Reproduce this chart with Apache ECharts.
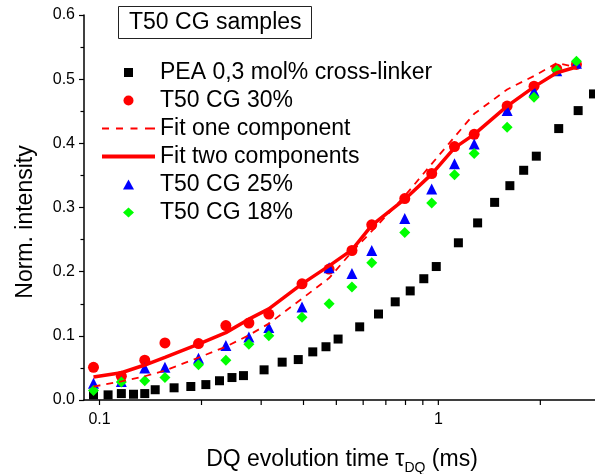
<!DOCTYPE html>
<html>
<head>
<meta charset="utf-8">
<script src="https://cdn.jsdelivr.net/npm/echarts@6/dist/echarts.min.js"></script>
<style>
html,body{margin:0;padding:0;background:#fff;}
#chart{width:595px;height:474px;}
</style>
</head>
<body>
<div id="chart"></div>
<script>
// ---- data ----
const timesPEA = [0.096,0.106,0.116,0.126,0.136,0.146,0.166,0.186,0.206,0.226,0.246,0.266,0.306,0.346,0.386,0.426,0.466,0.506,0.586,0.666,0.746,0.826,0.906,0.986,1.146,1.306,1.466,1.626,1.786,1.946,2.266,2.586,2.87];
const pea = [0.008,0.008,0.010,0.009,0.010,0.016,0.019,0.021,0.024,0.030,0.035,0.038,0.047,0.059,0.063,0.075,0.083,0.095,0.114,0.134,0.153,0.170,0.189,0.208,0.245,0.276,0.308,0.334,0.358,0.380,0.423,0.451,0.477];
const timesCG = [0.096,0.116,0.136,0.156,0.196,0.236,0.276,0.316,0.396,0.476,0.556,0.636,0.796,0.956,1.116,1.276,1.596,1.916,2.236,2.556];
const cg30 = [0.051,0.037,0.062,0.089,0.088,0.116,0.120,0.134,0.181,0.204,0.233,0.273,0.314,0.353,0.395,0.414,0.458,0.489,0.516,0.523];
const cg25 = [0.026,0.029,0.050,0.051,0.065,0.085,0.098,0.113,0.145,0.206,0.197,0.233,0.283,0.329,0.368,0.399,0.451,0.481,0.513,0.525];
const cg18 = [0.015,0.028,0.030,0.035,0.055,0.062,0.087,0.100,0.129,0.150,0.176,0.214,0.261,0.307,0.351,0.384,0.425,0.472,0.514,0.528];
const fitOne = [0.021,0.029,0.037,0.046,0.066,0.083,0.101,0.119,0.158,0.190,0.231,0.263,0.318,0.368,0.410,0.446,0.484,0.505,0.525,0.519];
const fitTwo = [0.036,0.0425,0.0545,0.0665,0.087,0.105,0.126,0.142,0.181,0.209,0.234,0.272,0.313,0.352,0.393,0.414,0.458,0.488,0.510,0.519];
const xTickValues = [0.1,0.2,0.3,0.4,0.5,0.6,0.7,0.8,0.9,1,2,3];
const xLabelValues = [0.1,1];
const seriesNames = ['PEA 0,3 mol% cross-linker','T50 CG 30%','Fit one component','Fit two components','T50 CG 25%','T50 CG 18%'];
const boxTitle = 'T50 CG samples';

// ---- chart ----
const FONT = 'Liberation Sans, Arial, sans-serif';
const pairs = (xs, ys) => xs.map((x, i) => [x, ys[i]]);
const chart = echarts.init(document.getElementById('chart'), null, {renderer: 'canvas'});

const isLabel = v => xLabelValues.some(l => Math.abs(Math.log10(v) - Math.log10(l)) < 1e-6);

// legend icons: each path spans the full 53x10 legend icon box (M0,0 M53,10 anchors)
const BOX = 'path://M0,0M53,10';
const legendIcons = [
  BOX + 'M22,0.5L31,0.5L31,9.5L22,9.5Z',
  BOX + 'M31.5,5A5,5,0,1,1,21.5,5A5,5,0,1,1,31.5,5Z',
  BOX + 'M0,4L7,4L7,6L0,6ZM14,4L21,4L21,6L14,6ZM28.5,4L35.5,4L35.5,6L28.5,6ZM43,4L53,4L53,6L43,6Z',
  BOX + 'M0,3L53,3L53,7L0,7Z',
  BOX + 'M26.5,0L32,10L21,10Z',
  BOX + 'M26.5,0L32,5L26.5,10L21,5Z'
];

const option = {
  animation: false,
  backgroundColor: '#fff',
  title: {
    text: boxTitle,
    left: 118, top: 6,
    padding: [5, 10, 5, 11],
    borderWidth: 1, borderColor: '#222',
    textStyle: {fontFamily: FONT, fontSize: 23, fontWeight: 'normal', color: '#000', lineHeight: 23}
  },
  legend: {
    left: 102, top: 58.5,
    padding: 0,
    orient: 'vertical',
    itemWidth: 53, itemHeight: 10,
    itemGap: 0,
    selectedMode: false,
    data: seriesNames.map((n, i) => ({name: n, icon: legendIcons[i]})),
    textStyle: {fontFamily: FONT, fontSize: 23, color: '#000', lineHeight: 28}
  },
  grid: {left: 84, top: 15, width: 516, height: 385, containLabel: false, outerBoundsMode: 'none'},
  xAxis: {
    type: 'log', logBase: 10, min: 0.09, max: 3,
    name: '{a|DQ evolution time τ}{s|DQ}{a| (ms)}',
    nameLocation: 'middle', nameGap: 48,
    nameTextStyle: {
      rich: {
        a: {fontFamily: FONT, fontSize: 23, color: '#000', lineHeight: 27, verticalAlign: 'top'},
        s: {fontFamily: FONT, fontSize: 14, color: '#000', lineHeight: 27, verticalAlign: 'bottom'}
      }
    },
    axisLine: {show: true, onZero: false, lineStyle: {color: '#000', width: 1.5}},
    axisTick: {show: false},
    minorTick: {show: false},
    splitLine: {show: false},
    axisLabel: {
      margin: 12, fontFamily: FONT, fontSize: 16, color: '#000',
      showMinLabel: false, showMaxLabel: false,
      formatter: v => isLabel(v) ? String(Math.round(v * 10) / 10) : ''
    }
  },
  yAxis: {
    type: 'value', min: 0, max: 0.6, interval: 0.1,
    name: 'Norm. intensity',
    nameLocation: 'middle', nameGap: 47, nameRotate: 90,
    nameTextStyle: {fontFamily: FONT, fontSize: 23, color: '#000', padding: [0, 29, 0, 0]},
    axisLine: {show: true, lineStyle: {color: '#000', width: 1.5}},
    axisTick: {show: true, inside: false, length: 5, lineStyle: {color: '#000', width: 1.2}},
    minorTick: {show: true, splitNumber: 2, length: 3.5, lineStyle: {color: '#000', width: 1.2}},
    splitLine: {show: false},
    minorSplitLine: {show: false},
    axisLabel: {margin: 9, fontFamily: FONT, fontSize: 16, color: '#000', formatter: v => v.toFixed(1)}
  },
  series: [
    {name: 'xticks', type: 'custom', silent: true, clip: false, z: 1,
      data: xTickValues.map(v => [v, 0]),
      renderItem: (params, api) => {
        const p = api.coord([api.value(0), 0]);
        return {type: 'line', shape: {x1: p[0], y1: p[1], x2: p[0], y2: p[1] + 5},
          style: {stroke: '#000', lineWidth: 1.2}};
      }},
    {name: seriesNames[0], type: 'scatter', symbol: 'rect', symbolSize: 9, itemStyle: {color: '#000', opacity: 1}, data: pairs(timesPEA, pea), clip: false},
    {name: seriesNames[1], type: 'scatter', symbol: 'circle', symbolSize: 11, itemStyle: {color: '#ff0000', opacity: 1}, data: pairs(timesCG, cg30)},
    {name: seriesNames[2], type: 'line', symbol: 'none', showSymbol: false, smooth: false,
      lineStyle: {color: '#ff0000', width: 1.8, type: [7, 6]}, itemStyle: {color: '#ff0000'}, data: pairs(timesCG, fitOne)},
    {name: seriesNames[3], type: 'line', symbol: 'none', showSymbol: false, smooth: false,
      lineStyle: {color: '#ff0000', width: 3.5}, itemStyle: {color: '#ff0000'}, data: pairs(timesCG, fitTwo)},
    {name: seriesNames[4], type: 'scatter', symbol: 'triangle', symbolSize: 11, itemStyle: {color: '#0000ff', opacity: 1}, data: pairs(timesCG, cg25)},
    {name: seriesNames[5], type: 'scatter', symbol: 'diamond', symbolSize: 11, itemStyle: {color: '#00ff00', opacity: 1}, data: pairs(timesCG, cg18)}
  ]
};
chart.setOption(option);
</script>
</body>
</html>
